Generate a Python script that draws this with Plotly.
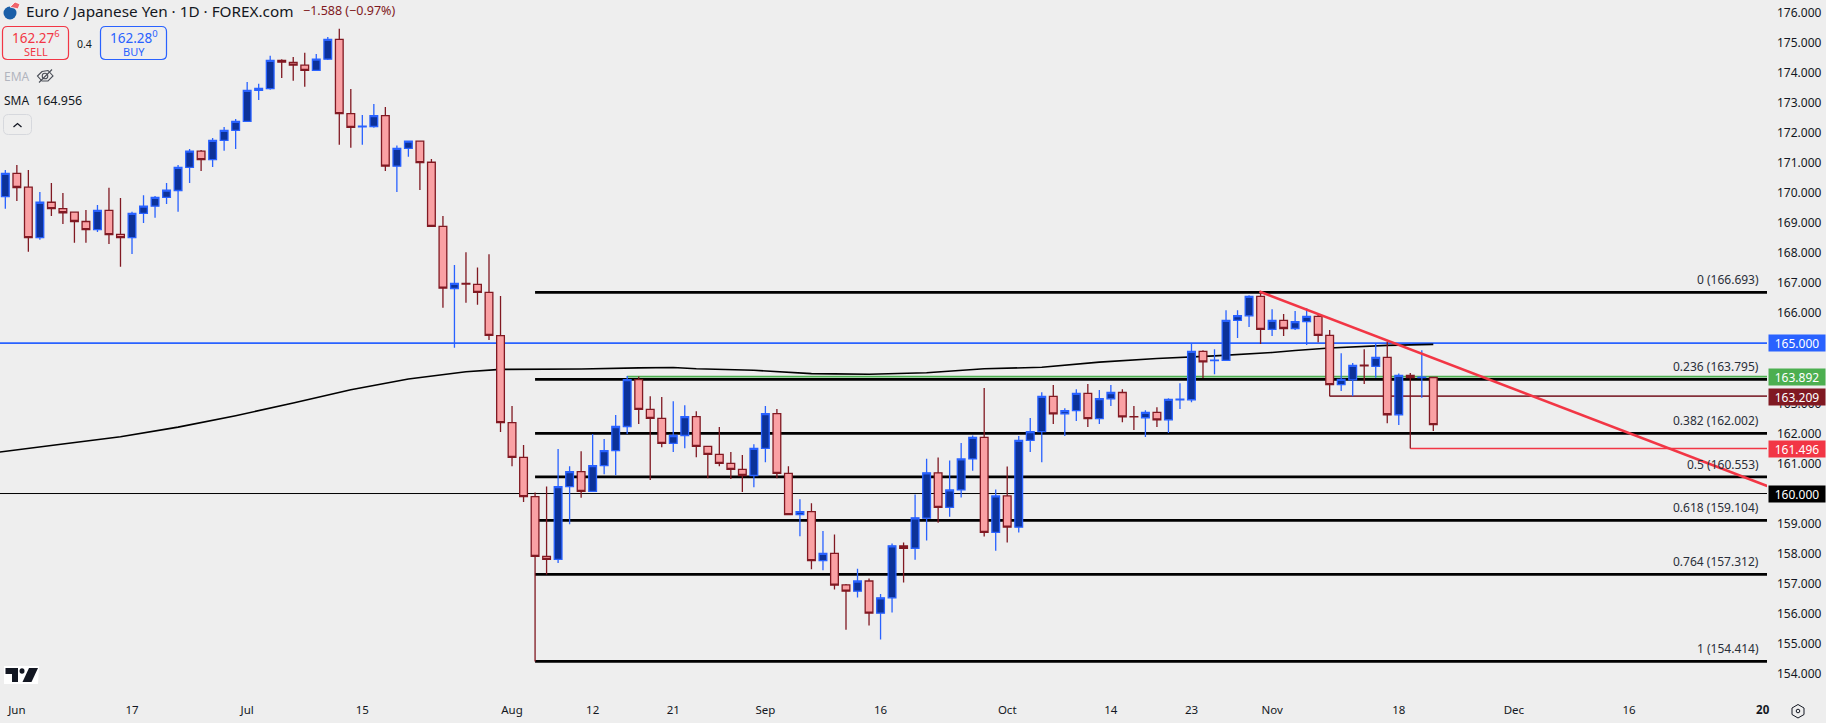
import plotly.graph_objects as go

W, H = 1826, 723
PLOT_R, PLOT_B = 1767, 692

opens = [169.88,170.65,170.19,168.51,169.69,169.48,169.36,169.05,168.78,169.42,168.62,168.51,169.32,169.56,169.85,170.08,170.85,171.39,171.11,171.75,172.08,172.38,173.41,173.47,174.41,174.34,174.25,174.08,174.45,175.11,172.64,172.20,172.21,172.57,170.89,171.48,171.72,171.02,168.89,166.82,166.99,166.96,166.69,165.25,162.36,161.20,159.90,157.91,157.81,160.23,160.73,160.07,160.93,161.43,162.23,163.79,162.80,162.50,161.67,161.93,162.56,161.57,161.30,161.00,160.80,160.60,161.50,162.66,160.67,159.30,159.40,157.77,158.01,156.96,156.75,157.09,156.02,156.53,158.26,158.18,159.18,160.69,159.54,160.12,161.15,161.87,158.71,159.92,158.88,161.77,162.06,163.23,162.65,162.76,163.33,162.49,163.15,163.36,162.56,162.52,162.70,162.45,163.12,163.12,164.73,164.42,164.43,165.76,165.91,166.56,165.46,165.76,165.49,165.72,165.89,165.26,163.62,163.78,164.27,164.23,164.53,162.62,163.93,163.86,163.86]
highs = [170.76,170.93,170.76,170.03,170.33,170.00,169.36,169.43,169.60,170.17,169.83,169.37,169.92,169.90,170.33,170.93,171.46,171.43,171.83,172.19,172.46,173.69,173.63,174.56,174.45,174.52,174.66,174.62,175.19,175.46,173.46,172.59,172.96,172.86,171.58,171.72,171.73,171.13,169.23,167.60,168.03,167.52,167.96,166.57,162.91,161.61,160.03,160.23,161.48,160.91,161.41,161.98,161.81,162.61,163.91,163.89,163.24,163.21,163.07,162.94,162.74,161.58,162.21,161.38,161.28,161.64,162.91,162.81,160.91,159.81,159.68,158.75,158.64,156.99,157.50,157.17,156.66,158.34,158.37,159.97,161.16,161.20,161.10,161.68,161.93,163.51,160.13,160.90,161.91,162.51,163.37,163.61,162.84,163.47,163.64,163.44,163.61,163.47,162.91,162.77,162.87,163.17,163.67,165.00,164.77,164.80,166.10,166.10,166.60,166.69,166.13,165.97,166.07,166.16,165.99,165.44,164.67,164.34,164.80,164.99,165.05,163.99,164.01,164.77,163.87]
lows = [169.47,169.73,168.04,168.44,169.23,168.97,168.34,168.34,168.70,168.30,167.54,167.97,169.00,169.17,169.63,169.37,170.33,170.73,170.86,171.40,171.46,172.36,173.09,173.43,173.82,173.73,173.53,174.06,174.42,171.60,171.50,171.60,172.17,170.73,170.03,171.20,170.10,168.88,166.18,164.85,166.35,166.28,165.11,162.05,160.91,159.72,154.41,157.31,157.69,158.98,159.86,160.06,160.64,160.61,161.98,162.31,160.45,161.54,161.38,161.51,161.21,160.51,160.91,160.48,160.05,160.21,161.04,160.51,159.29,158.58,157.48,157.45,156.81,155.47,156.54,155.61,155.14,156.04,157.04,157.80,158.44,159.03,159.23,159.87,160.76,158.57,158.10,158.37,158.70,161.38,161.04,162.31,161.91,162.41,162.21,162.31,162.91,162.37,162.11,161.88,162.21,162.01,162.81,163.04,163.84,163.97,164.42,165.17,165.54,164.97,165.24,165.24,165.44,164.94,165.03,163.24,163.41,163.24,163.64,163.85,162.34,162.28,161.50,163.19,162.08]
closes = [170.65,170.18,168.51,169.69,169.48,169.34,169.05,168.78,169.42,168.61,168.51,169.32,169.56,169.85,170.09,170.85,171.39,171.11,171.75,172.08,172.38,173.41,173.48,174.41,174.35,174.25,174.08,174.45,175.11,172.64,172.18,172.22,172.57,170.89,171.48,171.72,171.01,168.89,166.83,166.99,166.97,166.69,165.26,162.36,161.20,159.90,157.91,157.81,160.23,160.73,160.07,160.93,161.43,162.23,163.79,162.80,162.50,161.67,161.93,162.56,161.57,161.30,161.00,160.80,160.60,161.50,162.66,160.67,159.30,159.40,157.77,158.01,156.95,156.75,157.09,156.02,156.53,158.26,158.18,159.19,160.69,159.54,160.12,161.15,161.87,158.71,159.92,158.88,161.77,162.06,163.23,162.65,162.76,163.33,162.49,163.16,163.36,162.55,162.55,162.70,162.45,163.13,163.14,164.73,164.38,164.44,165.76,165.92,166.56,165.46,165.76,165.49,165.72,165.89,165.26,163.62,163.80,164.26,164.25,164.53,162.62,163.93,163.86,163.87,162.29]

sma_bars = [-0.47,5,10,15,20,25,30,35,40,43,50,55,58,60,65,70,72,75,80,85,90,95,100,105,110,112,115,120,124]
sma_vals = [161.38,161.65,161.89,162.21,162.59,163.01,163.45,163.81,164.05,164.13,164.14,164.18,164.19,164.15,164.10,163.99,163.98,163.97,164.02,164.15,164.20,164.37,164.49,164.58,164.69,164.76,164.84,164.93,164.96]

fib_ratios = ["0","0.236","0.382","0.5","0.618","0.764","1"]
fib_levels = [166.693,163.795,162.002,160.553,159.104,157.312,154.414]
fib_start_bar = 46

trend_bars = [108.9, 153]
trend_prices = [166.72, 160.25]

price_ticks = [154,155,156,157,158,159,161,162,163,166,167,168,169,170,171,172,173,174,175,176]
tick_bars = [1,11,21,31,44,51,58,66,76,87,96,103,110,121,131,141,152.6]
tick_labels = ["Jun","17","Jul","15","Aug","12","21","Sep","16","Oct","14","23","Nov","18","Dec","16","<b>20</b>"]

BG = "#eeeeee"
INK = "#131722"
BLUE = "#2962ff"
NAVY = "#0c3299"
PINK = "#faa1a4"
MAROON = "#801922"
RED = "#f23645"
GREEN = "#4caf50"
FONT = "Noto Sans, sans-serif"

x_lo = -5.33 / 11.516
x_hi = (PLOT_R - 5.33) / 11.516
y_top = 166.693 + 292.33 / 30.06
y_bot = 166.693 - (PLOT_B - 292.33) / 30.06


def px(x):
    return x / PLOT_R


def py(y):
    return 1 - y / PLOT_B


shapes = []


def hline(price, start, color, width):
    shapes.append(dict(type="line", layer="below", xref="x", yref="y", x0=start, x1=x_hi,
                       y0=price, y1=price, line=dict(color=color, width=width)))


hline(165.0, x_lo, BLUE, 1.7)
hline(160.0, x_lo, "#000000", 1.0)
hline(163.892, 54, GREEN, 1.7)
hline(163.24, 115, "#84303a", 1.6)
hline(161.5, 122, RED, 1.6)
for level in fib_levels:
    hline(level, fib_start_bar, "#000000", 2.8)

sma_path = "M " + " L ".join(f"{b} {v}" for b, v in zip(sma_bars, sma_vals))
shapes.append(dict(type="path", layer="below", xref="x", yref="y", path=sma_path,
                   line=dict(color="#000000", width=1.6)))


def ui_rect(x0, y0, x1, y1, line, fill="rgba(0,0,0,0)", width=1.2, r=5):
    a, b, c, d = px(x0), py(y0), px(x1), py(y1)
    rx, ry = r / PLOT_R, r / PLOT_B
    p = (f"M {a+rx} {b} L {c-rx} {b} Q {c} {b} {c} {b-ry} L {c} {d+ry} Q {c} {d} {c-rx} {d} "
         f"L {a+rx} {d} Q {a} {d} {a} {d+ry} L {a} {b-ry} Q {a} {b} {a+rx} {b} Z")
    shapes.append(dict(type="path", xref="paper", yref="paper", path=p,
                       line=dict(color=line, width=width), fillcolor=fill))


def ui_poly(points, fill=None, line=None, width=1, close=True):
    p = "M " + " L ".join(f"{px(a)} {py(b)}" for a, b in points) + (" Z" if close else "")
    shapes.append(dict(type="path", xref="paper", yref="paper", path=p,
                       fillcolor=fill if fill else "rgba(0,0,0,0)",
                       line=dict(color=line if line else "rgba(0,0,0,0)", width=width)))


def ui_circle(cx, cy, rx, ry, fill=None, line=None, width=1):
    shapes.append(dict(type="circle", xref="paper", yref="paper",
                       x0=px(cx-rx), x1=px(cx+rx), y0=py(cy+ry), y1=py(cy-ry),
                       fillcolor=fill if fill else "rgba(0,0,0,0)",
                       line=dict(color=line if line else "rgba(0,0,0,0)", width=width)))


ui_rect(2.5, 26.5, 68.5, 59.5, RED)
ui_rect(100.5, 26.5, 166.5, 59.5, BLUE)
ui_rect(3.5, 114.5, 31.5, 134.5, "#d6d8dd", width=1)
ui_poly([(13.5, 127), (17.5, 123.5), (21.5, 127)], line=INK, width=1.3, close=False)

# symbol badge
ui_circle(10, 13, 6.5, 6.5, fill="#1b5fa8")
ui_poly([(10, 7), (15, 2), (20, 4), (18, 9)], fill="#f0656b", line="#ffffff", width=0.8)
# eye-off icon
ui_poly([(37.5, 76), (42, 71.5), (48, 70.5), (53, 76), (48, 81), (42, 81)], line="#4a4e57", width=1.1)
ui_circle(45, 76, 2.8, 2.8, line="#4a4e57", width=1.1)
ui_poly([(39, 82.5), (52, 69.5)], line="#4a4e57", width=1.1, close=False)

# logo
ui_poly([(4, 666), (39, 666), (38, 684), (4, 684)], fill="#ffffff")
ui_poly([(5.5, 668), (18, 668), (18, 682), (12, 682), (12, 674), (5.5, 674)], fill="#131722")
ui_circle(22, 671, 2.5, 2.8, fill="#131722")
ui_poly([(29, 668), (38, 668), (31.5, 682), (22.5, 682)], fill="#131722")

# settings hexagon
ui_poly([(1798, 704.5), (1804, 708), (1804, 714.5), (1798, 718), (1792, 714.5), (1792, 708)], line="#131722", width=1)
ui_circle(1798, 711, 1.8, 1.8, line="#131722", width=1)

annotations = []


def note(x, y, text, size, color=INK, anchor="left"):
    annotations.append(dict(x=px(x), y=py(y), xref="paper", yref="paper", text=text, showarrow=False,
                            xanchor=anchor, yanchor="middle", align=anchor,
                            font=dict(family=FONT, size=size, color=color)))


note(24, 11, "Euro / Japanese Yen · 1D · FOREX.com", 15.3)
note(301, 10, "−1.588 (−0.97%)", 12.5, MAROON)
note(35.5, 36.5, "162.27<sup>6</sup>", 13.5, RED, "center")
note(35.5, 51, "SELL", 11, RED, "center")
note(133.5, 36.5, "162.28<sup>0</sup>", 13.5, BLUE, "center")
note(133.5, 51, "BUY", 11, BLUE, "center")
note(84.5, 43.5, "0.4", 10.5, INK, "center")
note(2, 77, "EMA", 12, "#b2b5be")
note(2, 100.5, "SMA", 12, INK)
note(34, 100.5, "164.956", 12.5, INK)

for ratio, level in zip(fib_ratios, fib_levels):
    annotations.append(dict(x=1, y=level, xref="paper", yref="y", text=f"{ratio} ({level:.3f})",
                            showarrow=False, xanchor="right", yanchor="middle", xshift=-6, yshift=12.5,
                            font=dict(family=FONT, size=12, color="#2a2e39")))

for price, text, color in [(165.0, "165.000", BLUE), (163.892, "163.892", GREEN),
                           (163.22, "163.209", MAROON), (161.496, "161.496", RED),
                           (160.0, "160.000", "#000000")]:
    annotations.append(dict(x=1, y=price, xref="paper", yref="y", text=text, showarrow=False,
                            xanchor="left", yanchor="middle", xshift=1, width=56, height=16,
                            bgcolor=color, borderpad=0, align="center",
                            font=dict(family=FONT, size=12, color="#ffffff")))

fig = go.Figure()
fig.add_trace(go.Candlestick(
    x=list(range(len(opens))), open=opens, high=highs, low=lows, close=closes,
    whiskerwidth=0,
    increasing=dict(fillcolor=NAVY, line=dict(color=BLUE, width=1.3)),
    decreasing=dict(fillcolor=PINK, line=dict(color=MAROON, width=1.3)),
    showlegend=False,
))
fig.add_trace(go.Scatter(x=trend_bars, y=trend_prices, mode="lines", showlegend=False,
                         line=dict(color=RED, width=2.7)))

fig.update_layout(
    width=W, height=H, autosize=False,
    margin=dict(l=0, r=W - PLOT_R, t=0, b=H - PLOT_B),
    paper_bgcolor=BG, plot_bgcolor=BG,
    boxgap=0.33, boxgroupgap=0,
    showlegend=False,
    shapes=shapes, annotations=annotations,
    font=dict(family=FONT, color=INK),
    xaxis=dict(range=[x_lo, x_hi], rangeslider=dict(visible=False), showgrid=False, zeroline=False,
               showline=False, ticks="", tickmode="array", tickvals=tick_bars, ticktext=tick_labels,
               tickangle=0, tickfont=dict(family=FONT, size=11.5, color=INK), ticklabelstandoff=9,
               ticklabeloverflow="allow"),
    yaxis=dict(range=[y_bot, y_top], side="right", showgrid=False, zeroline=False, showline=False,
               ticks="", tickmode="array", tickvals=price_ticks,
               ticktext=[f"{p:.3f}" for p in price_ticks],
               tickfont=dict(family=FONT, size=12, color=INK), ticklabelstandoff=9),
)

fig.write_html("out.html", config={"displayModeBar": False},
               post_script="document.body.style.margin='0';document.body.style.overflow='hidden';")
